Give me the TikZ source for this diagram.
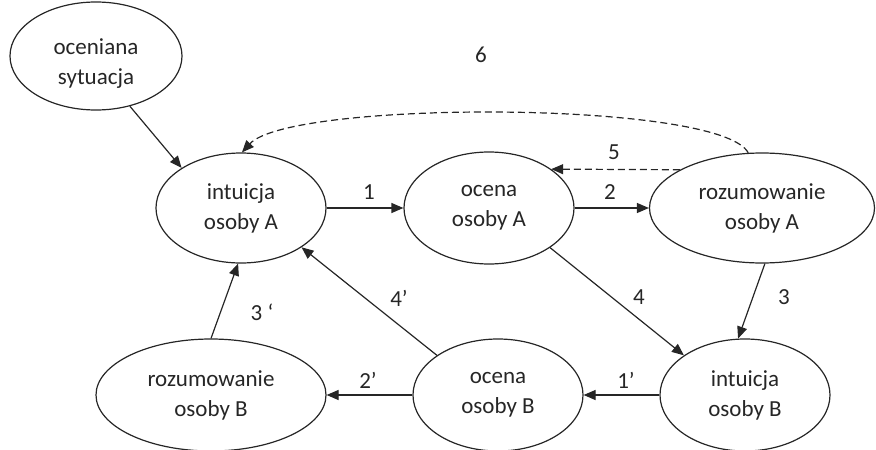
\documentclass[tikz,border=0pt]{standalone}
\usepackage{fontspec}
\setmainfont{Carlito}
\usetikzlibrary{shapes.geometric,arrows.meta}
\colorlet{ink}{black!85}
\begin{document}
\begin{tikzpicture}[x=1pt,y=-1pt,
  stan/.style={ellipse,draw=ink,text=ink,line width=1.2pt,inner sep=0pt,align=center,
    font=\fontsize{23}{30}\selectfont},
  arr/.style={draw=ink,line width=1.2pt,-{Triangle[length=12pt,width=10pt]}},
  dsh/.style={arr,dash pattern=on 7pt off 4pt},
  num/.style={text=ink,font=\fontsize{23}{26}\selectfont,inner sep=0pt}]
\useasboundingbox (0,0) rectangle (876,450);

% states
\node[stan,minimum width=172pt,minimum height=108pt] (sit) at (96,56) {};
\node[align=center,text=ink,font=\fontsize{23}{30}\selectfont,inner sep=0pt] (sitT) at (96,64) {oceniana\\sytuacja};
\node[stan,minimum width=170pt,minimum height=110pt] (intA) at (241,208) {intuicja\\osoby A};
\node[stan,minimum width=170pt,minimum height=112pt] (ocA) at (489,208) {ocena\\osoby A};
\node[stan,minimum width=225pt,minimum height=110pt] (rozA) at (762,208) {rozumowanie\\osoby A};
\node[stan,minimum width=230pt,minimum height=112pt] (rozB) at (211,395) {rozumowanie\\osoby B};
\node[stan,minimum width=170pt,minimum height=112pt] (ocB) at (498,395) {ocena\\osoby B};
\node[stan,minimum width=170pt,minimum height=112pt] (intB) at (745,395) {intuicja\\osoby B};

% connectors
\draw[arr] (sit.304) -- (intA.146);
\draw[arr] (intA.east) -- (ocA.west);
\draw[arr] (ocA.east) -- (rozA.west);
\draw[dsh] (rozA.155) -- (ocA.32);
\draw[dsh] (rozA.104) .. controls (720,100) and (290,100) .. (intA.89);
\draw[arr] (ocA.327) -- (intB.147);
\draw[arr] (rozA.273) -- (intB.97);
\draw[arr] (intB.west) -- (ocB.east);
\draw[arr] (ocB.west) -- (rozB.east);
\draw[arr] (ocB.147) -- (intA.327);
\draw[arr] (rozB.north) -- (intA.267);

% labels
\node[num] (l1) at (369,192) {1};
\node[num] (l2) at (610,192) {2};
\node[num] (l5) at (614,152) {5};
\node[num] (l6) at (481,55) {6};
\node[num] (l4) at (639,297) {4};
\node[num] (l3) at (784,297) {3};
\node[num] (l1p) at (626,380) {1’};
\node[num] (l2p) at (368,380) {2’};
\node[num] (l4p) at (399,298) {4’};
\node[num] (l3p) at (262,312) {3 ‘};
\end{tikzpicture}
\end{document}
